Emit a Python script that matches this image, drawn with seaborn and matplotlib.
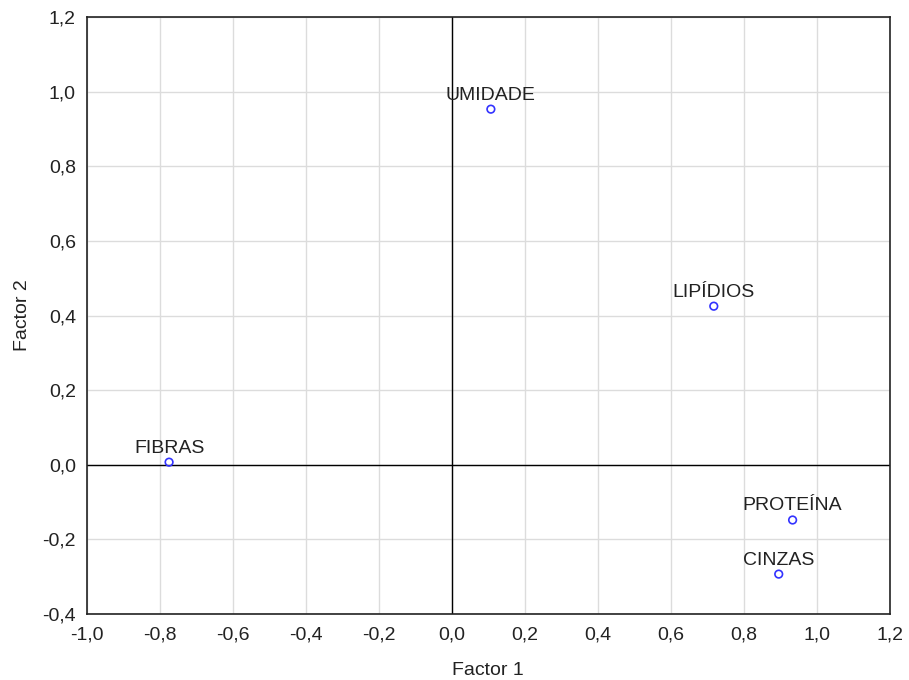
import numpy as np
import pandas as pd
import matplotlib
matplotlib.use("Agg")
import matplotlib.pyplot as plt
import seaborn as sns

# variable names and factor loadings
variables = ["UMIDADE", "LIPÍDIOS", "FIBRAS", "PROTEÍNA", "CINZAS"]
factor1 = [0.107, 0.718, -0.775, 0.934, 0.896]
factor2 = [0.953, 0.425, 0.007, -0.148, -0.293]

xticks = np.round(np.arange(-1.0, 1.21, 0.2), 1)
yticks = np.round(np.arange(-0.4, 1.21, 0.2), 1)


def fmt(v):
    if abs(v) < 1e-9:
        v = 0.0
    return f"{v:.1f}".replace(".", ",")


df = pd.DataFrame({"var": variables, "Factor 1": factor1, "Factor 2": factor2})

sns.set_style("white")
plt.rcParams["font.family"] = ["Liberation Sans", "DejaVu Sans"]

fig = plt.figure(figsize=(9.09, 6.80), dpi=100)
ax = fig.add_axes([0.0957, 0.097, 0.883, 0.878])

ax.grid(True, color="#dcdcdc", linewidth=1)
ax.set_axisbelow(True)
ax.axhline(0, color="black", linewidth=1)
ax.axvline(0, color="black", linewidth=1)

sns.scatterplot(data=df, x="Factor 1", y="Factor 2", ax=ax, s=30,
                facecolor="none", edgecolor="#3333ff", linewidth=1.2, zorder=3)

for _, r in df.iterrows():
    ax.annotate(r["var"], (r["Factor 1"], r["Factor 2"]), xytext=(0, 4),
                textcoords="offset points", ha="center", va="bottom",
                fontsize=14, color="#222222")

ax.set_xlim(-1.0, 1.2)
ax.set_ylim(-0.4, 1.2)
ax.set_xticks(xticks)
ax.set_yticks(yticks)
ax.set_xticklabels([fmt(v) for v in xticks], fontsize=14, color="#222222")
ax.set_yticklabels([fmt(v) for v in yticks], fontsize=14, color="#222222")
ax.tick_params(direction="in", length=4, color="black")
ax.tick_params(axis="x", pad=9)
ax.tick_params(axis="y", pad=8)
for s in ax.spines.values():
    s.set_color("#222222")
    s.set_linewidth(1.2)
ax.set_xlabel("Factor 1", fontsize=14, labelpad=13, color="#222222")
ax.set_ylabel("Factor 2", fontsize=14, labelpad=8, color="#222222")

fig.savefig("out.png", dpi=100)
